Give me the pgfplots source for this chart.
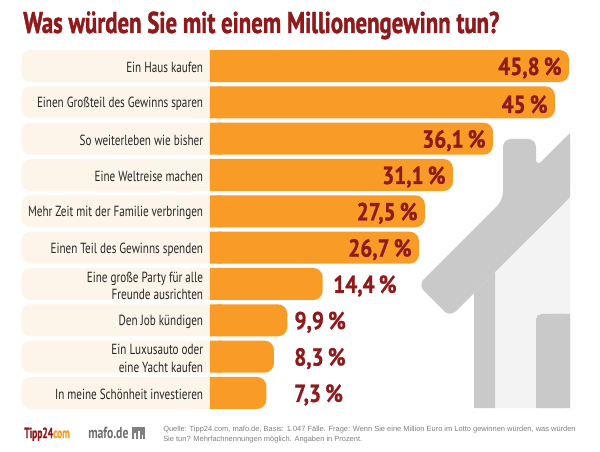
\documentclass[border=0pt]{standalone}
\usepackage{fontspec}
\setmainfont{PT Sans}[FakeStretch=0.76]
\newfontfamily\titlefont{PT Sans}[FakeStretch=0.76, BoldFeatures={FakeBold=1.3}]
\newfontfamily\valfont{PT Sans}[FakeStretch=0.86, BoldFeatures={FakeBold=1.0}]
\newfontfamily\logofont{PT Sans}[FakeStretch=0.86]
\newfontfamily\smallfont{Liberation Sans}
\usepackage{pgfplots}
\pgfplotsset{compat=1.18}
\usepackage{pgfplotstable}
\definecolor{barorange}{HTML}{F89C27}
\definecolor{labelbg}{HTML}{FEF5EA}
\definecolor{darkred}{HTML}{8E1A1C}
\definecolor{housedark}{HTML}{C9C9C9}
\definecolor{houselight}{HTML}{F3F3F3}
\definecolor{srcgrey}{HTML}{7F7F7F}

% bar ends as measured in the picture, lab = printed value, gap = label offset in pt
\pgfplotstableread{
r v lab
0 45.85 {45,8}
1 44.06 {45}
2 36.14 {36,1}
3 31.03 {31,1}
4 27.45 {27,5}
5 26.69 {26,7}
}\inbars
\pgfplotstableread{
r v lab gap
6 14.39 {14,4} 4.4
7 9.87 {9,9} 1.9
8 8.17 {8,3} 11.7
9 7.2 {7,3} 17.3
}\outbars
\pgfplotstableread{
r v
0 -24.1
1 -24.1
2 -24.1
3 -24.1
4 -24.1
5 -24.1
6 -24.1
7 -24.1
8 -24.1
9 -24.1
}\backbars

\pgfplotsset{frame/.style={scale only axis, width=450pt, height=339pt, axis lines=none,
  clip=true, at={(0,0)}, anchor=south west}}

\begin{document}
\begin{tikzpicture}
\path[use as bounding box] (0,0) rectangle (450pt,339pt);
% pixel frame for house and the free texts
\begin{axis}[frame, xmin=0, xmax=600, ymin=0, ymax=452, y dir=reverse]
\addplot[fill=houselight, draw=none] coordinates {(495,272) (570,197) (570,408) (495,408)} --cycle;
\addplot[fill=housedark, draw=none] coordinates {(474,293) (495,272) (495,408) (474,408)} --cycle;
\addplot[fill=housedark, draw=none, rounded corners=4pt] coordinates {(536,408) (536,314) (570,314) (570,408)} --cycle;
\addplot[fill=housedark, draw=none] coordinates {(536,340) (550,314) (570,314) (570,408) (536,408)} --cycle;
\addplot[fill=housedark, draw=none, rounded corners=6pt] coordinates {(418,285) (450,317) (570,197) (570,133) (536,167) (536,139) (503,139) (503,200)} --cycle;
\addplot[fill=housedark, draw=none] coordinates {(530,237) (570,197) (570,133) (530,173)} --cycle;
\node[anchor=base west, text=darkred, font=\titlefont\fontsize{22.5}{24}\selectfont\bfseries, inner sep=0pt] at (axis cs:23,33) {Was würden Sie mit einem Millionengewinn tun?};
\node[anchor=base west, text=darkred, font=\valfont\fontsize{11}{11}\selectfont\bfseries, inner sep=0pt] at (axis cs:24,438) {\scalebox{.75}[1]{Tipp24\textcolor{barorange}{com}}};
\node[anchor=base west, text=black!58, font=\logofont\fontsize{12}{12}\selectfont\bfseries, inner sep=0pt] at (axis cs:88,438) {\scalebox{.85}[1]{mafo.de}};
\addplot[fill=black!50, draw=none] coordinates {(132,427) (145,427) (145,439) (132,439)} --cycle;
\addplot[fill=white, draw=none] coordinates {(134,439) (134,433) (136,433) (136,439)} --cycle;
\addplot[fill=white, draw=none] coordinates {(138,439) (138,431) (140,431) (140,439)} --cycle;
\addplot[fill=white, draw=none] coordinates {(142,439) (142,435) (143,435) (143,439)} --cycle;
\node[anchor=north west, text=srcgrey, align=left, font=\smallfont\fontsize{5.6}{7.7}\selectfont, inner sep=0pt] at (axis cs:163,426) {Quelle: Tipp24.com, mafo.de, Basis: 1.047 Fälle. Frage: Wenn Sie eine Million Euro im Lotto gewinnen würden, was würden\\Sie tun? Mehrfachnennungen möglich. Angaben in Prozent.};
\end{axis}
% bars, x in percent, y in rows
\begin{axis}[frame, xmin=-26.82, xmax=49.81, ymin=-1.817, ymax=10.625, y dir=reverse,
  xbar, bar width=24pt, bar shift=0pt,
  every node near coord/.append style={text=darkred, yshift=-1.5pt, font=\valfont\fontsize{18.5}{20}\selectfont\bfseries}]
\addplot[fill=labelbg, draw=none, rounded corners=7pt] table[x=v, y=r] {\backbars};
\addplot[fill=labelbg, draw=none] table[x expr=-1.5, y=r] {\backbars};
\addplot[fill=barorange, draw=none, rounded corners=7pt,
  point meta=explicit symbolic, nodes near coords={\pgfplotspointmeta\,\%},
  every node near coord/.append style={anchor=east, xshift=-2pt}]
  table[x=v, y=r, meta=lab] {\inbars};
\addplot[fill=barorange, draw=none, rounded corners=7pt,
  point meta=explicit symbolic, visualization depends on={\thisrow{gap} \as \gap},
  nodes near coords={\pgfplotspointmeta\,\%},
  every node near coord/.append style={anchor=west, xshift=\gap pt}]
  table[x=v, y=r, meta=lab] {\outbars};
\addplot[fill=barorange, draw=none] table[x expr=1.5, y=r] {\backbars};
\foreach \r/\t in {0/Ein Haus kaufen, 1/Einen Großteil des Gewinns sparen, 2/So weiterleben wie bisher,
  3/Eine Weltreise machen, 4/Mehr Zeit mit der Familie verbringen, 5/Einen Teil des Gewinns spenden,
  6/{Eine große Party für alle\\Freunde ausrichten}, 7/Den Job kündigen,
  8/{Ein Luxusauto oder\\eine Yacht kaufen}, 9/In meine Schönheit investieren}{
  \edef\temp{\noexpand\node[anchor=east, align=right, yshift=-1.2pt, text=black!85, font=\noexpand\fontsize{11}{13}\noexpand\selectfont, inner sep=0pt] at (axis cs:-0.85,\r) {\unexpanded\expandafter{\t}};}
  \temp
}
\end{axis}
\end{tikzpicture}
\end{document}
